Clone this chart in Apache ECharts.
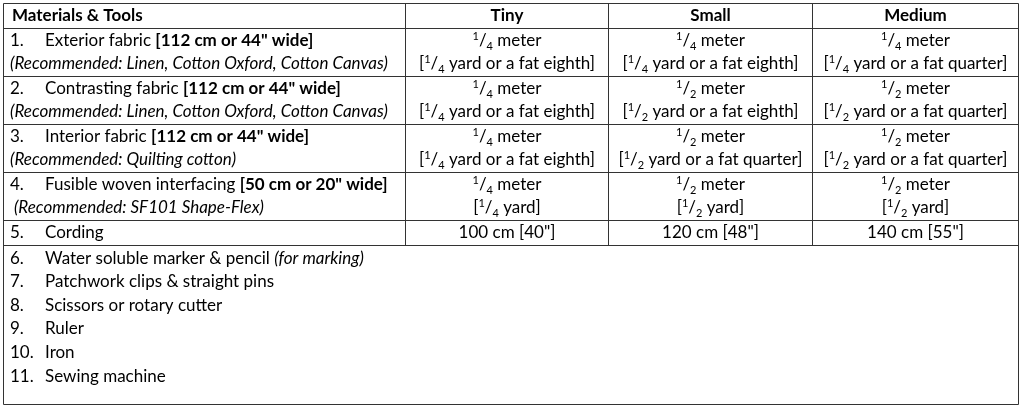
<!DOCTYPE html><html><head><meta charset="utf-8">
<script src="https://cdn.jsdelivr.net/npm/echarts@6/dist/echarts.min.js"></script>
<style>html,body{margin:0;background:#fff}#c{width:1024px;height:411px}</style></head><body><div id="c"></div>
<script>
const headers = ['Materials & Tools', 'Tiny', 'Small', 'Medium'];
const numbers = ['1.', '2.', '3.', '4.', '5.', '6.', '7.', '8.', '9.', '10.', '11.'];
const itemMain = [
  'Exterior fabric {b|[112 cm or 44" wide]}',
  'Contrasting fabric {b|[112 cm or 44" wide]}',
  'Interior fabric {b|[112 cm or 44" wide]}',
  'Fusible woven interfacing {b|[50 cm or 20" wide]}',
  'Cording',
  'Water soluble marker & pencil {i|(for marking)}',
  'Patchwork clips & straight pins',
  'Scissors or rotary cutter',
  'Ruler',
  'Iron',
  'Sewing machine'
];
const itemNote = [
  '(Recommended: Linen, Cotton Oxford, Cotton Canvas)',
  '(Recommended: Linen, Cotton Oxford, Cotton Canvas)',
  '(Recommended: Quilting cotton)',
  ' (Recommended: SF101 Shape-Flex)'
];
const tiny = [
  ['{s|1}/{d|4} meter', '[{s|1}/{d|4} yard or a fat eighth]'],
  ['{s|1}/{d|4} meter', '[{s|1}/{d|4} yard or a fat eighth]'],
  ['{s|1}/{d|4} meter', '[{s|1}/{d|4} yard or a fat eighth]'],
  ['{s|1}/{d|4} meter', '[{s|1}/{d|4} yard]'],
  ['100 cm [40"]']
];
const small = [
  ['{s|1}/{d|4} meter', '[{s|1}/{d|4} yard or a fat eighth]'],
  ['{s|1}/{d|2} meter', '[{s|1}/{d|2} yard or a fat eighth]'],
  ['{s|1}/{d|2} meter', '[{s|1}/{d|2} yard or a fat quarter]'],
  ['{s|1}/{d|2} meter', '[{s|1}/{d|2} yard]'],
  ['120 cm [48"]']
];
const medium = [
  ['{s|1}/{d|4} meter', '[{s|1}/{d|4} yard or a fat quarter]'],
  ['{s|1}/{d|2} meter', '[{s|1}/{d|2} yard or a fat quarter]'],
  ['{s|1}/{d|2} meter', '[{s|1}/{d|2} yard or a fat quarter]'],
  ['{s|1}/{d|2} meter', '[{s|1}/{d|2} yard]'],
  ['140 cm [55"]']
];

const F = 'Lato, "Open Sans", sans-serif', FS = 17, C = '#000';
const rich = {
  b: {fontWeight: 'bold', fontSize: FS, fontFamily: F, fill: C},
  i: {fontStyle: 'italic', fontSize: FS, fontFamily: F, fill: C},
  s: {fontSize: 11, fontFamily: F, fill: C, verticalAlign: 'top', lineHeight: 21},
  d: {fontSize: 11, fontFamily: F, fill: C, verticalAlign: 'bottom', lineHeight: 17}
};
const els = [];
function txt(x, y, t, align, extra) {
  els.push({type: 'text', x, y, style: Object.assign({text: t, fontSize: FS, fontFamily: F, fill: C, align: align || 'left', verticalAlign: 'middle', rich}, extra || {})});
}
function line(x1, y1, x2, y2, w) {
  els.push({type: 'line', shape: {x1, y1, x2, y2}, style: {stroke: '#333', lineWidth: w || 1}});
}
const L = 3.5, R = 1018.5, T = 3.5, B = 404.5;
const cols = [405.5, 608.5, 812.5];
const rowBreaks = [28.5, 76.5, 124.5, 172.5, 220.5, 245.5];
els.push({type: 'rect', shape: {x: L, y: T, width: R - L, height: B - T}, style: {fill: 'none', stroke: '#333', lineWidth: 1}});
rowBreaks.forEach(y => line(L, y, R, y));
cols.forEach(x => line(x, T, x, 245.5));
const centers = [(cols[0] + cols[1]) / 2, (cols[1] + cols[2]) / 2, (cols[2] + R) / 2];
txt(12, 16, headers[0], 'left', {fontWeight: 'bold'});
headers.slice(1).forEach((h, i) => txt(centers[i], 16, h, 'center', {fontWeight: 'bold'}));
const lineY = [[41, 64], [89, 112], [137, 160], [185, 208], [233], [259], [282], [306], [329], [353], [377]];
numbers.forEach((n, r) => {
  txt(10, lineY[r][0], n);
  txt(45, lineY[r][0], itemMain[r]);
  if (itemNote[r]) txt(10, lineY[r][1], itemNote[r], 'left', {fontStyle: 'italic'});
});
[tiny, small, medium].forEach((col, c) => col.forEach((cell, r) => cell.forEach((t, k) => txt(centers[c], lineY[r][k], t, 'center'))));

const chart = echarts.init(document.getElementById('c'));
chart.setOption({animation: false, graphic: {elements: els}});
</script></body></html>
